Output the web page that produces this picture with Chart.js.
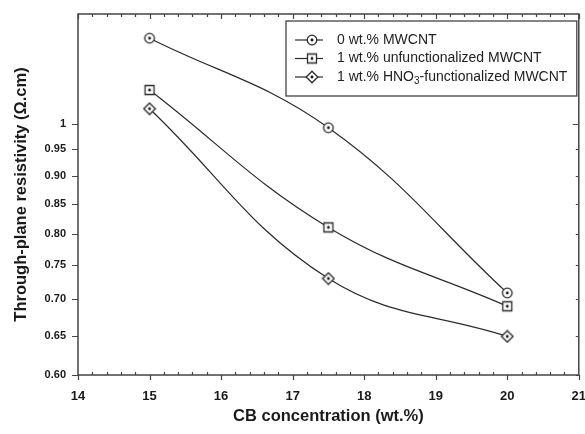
<!DOCTYPE html>
<html>
<head>
<meta charset="utf-8">
<script src="https://cdn.jsdelivr.net/npm/chart.js@4.4.1/dist/chart.umd.min.js"></script>
<style>
  html, body { margin: 0; padding: 0; background: #fff; }
  #wrap { width: 585px; height: 434px; }
</style>
</head>
<body>
<div id="wrap"><canvas id="chart" width="585" height="434"></canvas></div>
<script>
// data
const cbConcentration = [15, 17.5, 20];
const mwcnt0 = [1.19, 0.992, 0.709];
const mwcntUnfunc = [1.071, 0.810, 0.690];
const mwcntHno3 = [1.031, 0.730, 0.649];

const seriesLabels = [
    '0 wt.% MWCNT',
    '1 wt.% unfunctionalized MWCNT',
    '1 wt.% HNO|3|-functionalized MWCNT'
];
const xTicks = [14, 15, 16, 17, 18, 19, 20, 21];
const yTicks = [0.60, 0.65, 0.70, 0.75, 0.80, 0.85, 0.90, 0.95, 1];
const yTickLabels = ['0.60', '0.65', '0.70', '0.75', '0.80', '0.85', '0.90', '0.95', '1'];

const ink = '#2b2b2b';
const fontFamily = '"Liberation Sans", Arial, sans-serif';

function makeMarker(shape) {
    const c = document.createElement('canvas');
    c.width = 14;
    c.height = 14;
    const g = c.getContext('2d');
    g.fillStyle = '#fff';
    g.strokeStyle = ink;
    g.lineWidth = 1.3;
    g.beginPath();
    if (shape === 'circle') {
        g.arc(7, 7, 4.8, 0, Math.PI * 2);
    } else if (shape === 'square') {
        g.rect(2.5, 2.5, 9, 9);
    } else {
        g.moveTo(7, 1.2);
        g.lineTo(12.8, 7);
        g.lineTo(7, 12.8);
        g.lineTo(1.2, 7);
        g.closePath();
    }
    g.fill();
    g.stroke();
    g.fillStyle = '#111';
    g.beginPath();
    g.arc(7, 7, 1.4, 0, Math.PI * 2);
    g.fill();
    return c;
}

const markers = [makeMarker('circle'), makeMarker('square'), makeMarker('diamond')];

function toPoints(ys) {
    return cbConcentration.map((x, i) => ({ x: x, y: ys[i] }));
}

function series(label, ys, marker) {
    return {
        label: label,
        data: toPoints(ys),
        borderColor: ink,
        borderWidth: 1.2,
        tension: 0.4,
        pointStyle: marker,
        pointRadius: 5,
        pointHoverRadius: 5,
        fill: false
    };
}

function noPadding(scale) {
    scale.paddingLeft = 0;
    scale.paddingRight = 0;
    scale.paddingTop = 0;
    scale.paddingBottom = 0;
}

// frame, inward/outward tick marks and the boxed legend
const framePlugin = {
    id: 'frame',
    afterDraw(chart) {
        const ctx = chart.ctx;
        const a = chart.chartArea;
        const xs = chart.scales.x;
        const ys = chart.scales.y;
        ctx.save();
        ctx.strokeStyle = '#444';
        ctx.lineWidth = 1.5;
        ctx.strokeRect(a.left, a.top, a.right - a.left, a.bottom - a.top);

        ctx.lineWidth = 1.2;
        ctx.beginPath();
        for (let v = xTicks[0]; v <= xTicks[xTicks.length - 1] + 0.001; v += 0.2) {
            const px = Math.round(xs.getPixelForValue(v)) + 0.5;
            const major = Math.abs(v - Math.round(v)) < 0.01;
            if (major) {
                ctx.moveTo(px, a.bottom);
                ctx.lineTo(px, a.bottom + 5);
                ctx.moveTo(px, a.top);
                ctx.lineTo(px, a.top + 5);
            } else {
                ctx.moveTo(px, a.bottom);
                ctx.lineTo(px, a.bottom - 3);
                ctx.moveTo(px, a.top);
                ctx.lineTo(px, a.top + 3);
            }
        }
        yTicks.forEach(v => {
            const py = Math.round(ys.getPixelForValue(v)) + 0.5;
            ctx.moveTo(a.left, py);
            ctx.lineTo(a.left - 6, py);
            ctx.moveTo(a.right, py);
            ctx.lineTo(a.right - (v === 1 ? 6 : 3), py);
        });
        ctx.stroke();

        // legend
        const bx = a.left + 208, by = a.top + 7;
        const bw = a.right - 2 - bx, bh = 75;
        ctx.fillStyle = '#fff';
        ctx.fillRect(bx, by, bw, bh);
        ctx.strokeStyle = '#444';
        ctx.lineWidth = 1.3;
        ctx.strokeRect(bx, by, bw, bh);
        ctx.textBaseline = 'middle';
        ctx.fillStyle = '#222';
        seriesLabels.forEach((label, i) => {
            const cy = by + 19 + i * 18.5;
            ctx.strokeStyle = ink;
            ctx.lineWidth = 1.2;
            ctx.beginPath();
            ctx.moveTo(bx + 9, cy);
            ctx.lineTo(bx + 37, cy);
            ctx.stroke();
            ctx.drawImage(markers[i], bx + 26 - 7, cy - 7);
            let tx = bx + 51;
            label.split('|').forEach((part, k) => {
                const sub = k % 2 === 1;
                ctx.font = (sub ? '10px ' : '14px ') + fontFamily;
                ctx.fillText(part, tx, sub ? cy + 4 : cy);
                tx += ctx.measureText(part).width;
            });
        });
        ctx.restore();
    }
};

new Chart(document.getElementById('chart'), {
    type: 'line',
    data: {
        datasets: [
            series(seriesLabels[0], mwcnt0, markers[0]),
            series(seriesLabels[1], mwcntUnfunc, markers[1]),
            series(seriesLabels[2].replace(/\|/g, ''), mwcntHno3, markers[2])
        ]
    },
    options: {
        responsive: false,
        animation: false,
        layout: { padding: { top: 14, right: 6, left: 0, bottom: 0 } },
        plugins: {
            legend: { display: false },
            tooltip: { enabled: false }
        },
        scales: {
            x: {
                type: 'linear',
                min: 14,
                max: 21,
                afterBuildTicks: scale => { scale.ticks = xTicks.map(v => ({ value: v })); },
                afterFit: scale => { scale.height = 59; noPadding(scale); },
                grid: { display: false, drawTicks: false },
                border: { display: false },
                ticks: {
                    padding: 14,
                    color: '#1a1a1a',
                    font: { family: fontFamily, size: 13, weight: 'bold' },
                    maxRotation: 0
                },
                title: {
                    display: true,
                    text: 'CB concentration (wt.%)',
                    color: '#1a1a1a',
                    font: { family: fontFamily, size: 16.5, weight: 'bold' },
                    padding: { top: 0, bottom: 8 }
                }
            },
            y: {
                type: 'logarithmic',
                min: 0.6,
                max: 1.25,
                afterBuildTicks: scale => { scale.ticks = yTicks.map(v => ({ value: v })); },
                afterFit: scale => { scale.width = 78; noPadding(scale); },
                grid: { display: false, drawTicks: false },
                border: { display: false },
                ticks: {
                    padding: 12,
                    color: '#1a1a1a',
                    font: { family: fontFamily, size: 11, weight: 'bold' },
                    callback: (value, index) => yTickLabels[index]
                },
                title: {
                    display: true,
                    text: 'Through-plane resistivity (\u03A9.cm)',
                    color: '#1a1a1a',
                    font: { family: fontFamily, size: 16.5, weight: 'bold' },
                    padding: { top: 12, bottom: 0 }
                }
            }
        }
    },
    plugins: [framePlugin]
});
</script>
</body>
</html>
